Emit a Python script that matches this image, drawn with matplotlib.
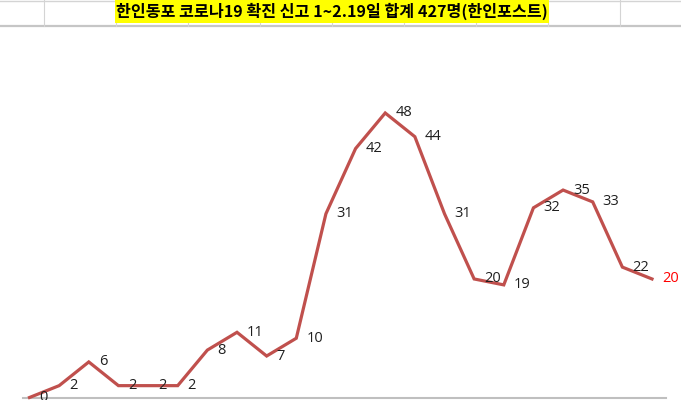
import matplotlib
matplotlib.use('Agg')
import matplotlib.pyplot as plt
from matplotlib.patches import Rectangle
from matplotlib.lines import Line2D

title = '한인동포 코로나19 확진 신고 1~2.19일 합계 427명(한인포스트)'
days = list(range(22))
cases = [0, 2, 6, 2, 2, 2, 8, 11, 7, 10, 31, 42, 48, 44, 31, 20, 19, 32, 35, 33, 22, 20]

W, H = 681, 400
fig = plt.figure(figsize=(W / 100, H / 100), dpi=100)
fig.patch.set_facecolor('white')

def fx(px):
    return px / W

def fy(py):
    return 1 - py / H

# spreadsheet grid at the top
grid_c = '#d4d4d4'
fig.add_artist(Line2D([0, 1], [fy(0.5), fy(0.5)], color=grid_c, lw=1))
fig.add_artist(Line2D([0, 1], [fy(26), fy(26)], color='#c6c6c6', lw=1.6))
for gx in range(44, W, 72):
    fig.add_artist(Line2D([fx(gx), fx(gx)], [fy(0), fy(26)], color=grid_c, lw=0.8))

# yellow title cell
fig.add_artist(Rectangle((fx(115), fy(23)), fx(549 - 115), 23 / H,
                         facecolor='#ffff00', edgecolor='none', zorder=3))
fig.text(fx(332), fy(11.5), title, ha='center', va='center', fontsize=11.6,
         fontweight='bold', family=['Noto Sans CJK KR', 'DejaVu Sans'], zorder=4)

# chart area: x=0 at 29.5px, x=21 at 652px; y=0 at 397.5px, y=48 at 113px
ax = fig.add_axes([0, 0, 1, 1])
sx = (652 - 29.5) / 21
sy = (397.5 - 113) / 48
ax.set_xlim(-29.5 / sx, 21 + (W - 652) / sx)
ax.set_ylim(-(H - 397.5) / sy, 48 + 113 / sy)
ax.axis('off')
ax.patch.set_alpha(0)

ax.axhline(0, xmin=fx(23), xmax=fx(666), color='#bfbfbf', lw=1.5, zorder=1)
ax.plot(days, cases, color='#c0504d', lw=2.3, solid_joinstyle='miter', zorder=2)

for i, v in enumerate(cases):
    c = '#ff0000' if i == len(cases) - 1 else '#1f1f1f'
    ax.annotate(str(v), (days[i], v), xytext=(10, 0), textcoords='offset pixels',
                ha='left', va='center', fontsize=10.5, color=c, family='Open Sans', zorder=3)

fig.savefig('out.png', dpi=100)
